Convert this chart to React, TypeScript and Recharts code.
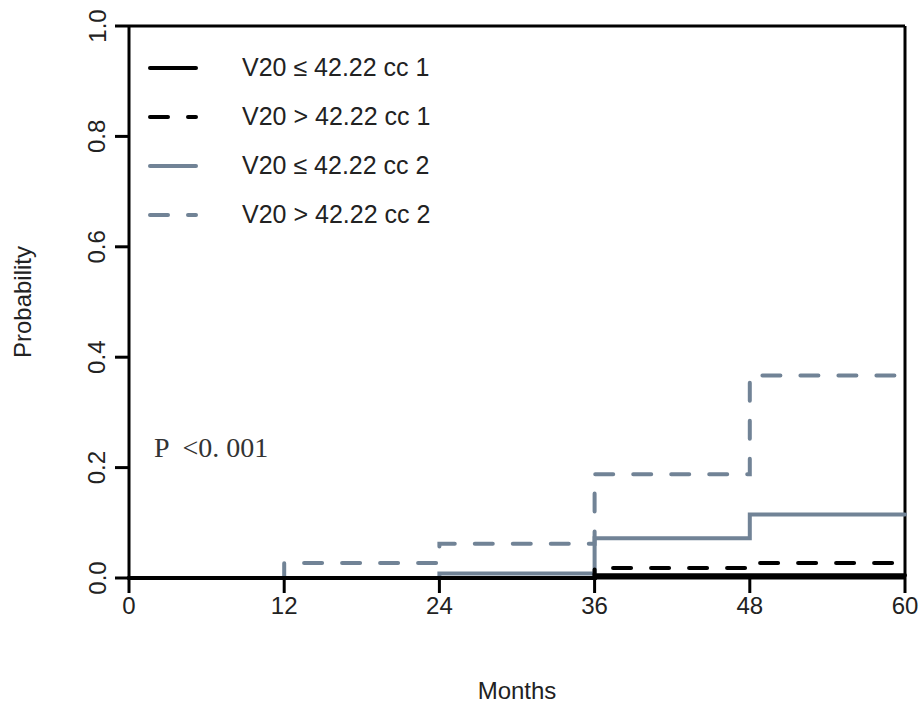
import { LineChart, Line, XAxis, YAxis, Legend, ReferenceLine, Label } from 'recharts';

const months = [0, 12, 24, 36, 48, 60];
const lowCc1 = [0, 0, 0, 0.005, 0.005, 0.005];
const highCc1 = [0, 0, 0, 0.018, 0.027, 0.027];
const lowCc2 = [0, 0, 0.008, 0.072, 0.115, 0.115];
const highCc2 = [0, 0.027, 0.062, 0.188, 0.367, 0.367];
const yTicks = [0, 0.2, 0.4, 0.6, 0.8, 1.0];

const GRAY = '#718396';
const FONT = '"Liberation Sans", Arial, sans-serif';

const SERIES = [
  { key: 'lowCc1', name: 'V20 ≤ 42.22 cc 1', color: '#000', dash: undefined },
  { key: 'highCc1', name: 'V20 > 42.22 cc 1', color: '#000', dash: '18 20' },
  { key: 'lowCc2', name: 'V20 ≤ 42.22 cc 2', color: GRAY, dash: undefined },
  { key: 'highCc2', name: 'V20 > 42.22 cc 2', color: GRAY, dash: '18 20' },
];

const chartData = months.map((m, i) => ({
  month: m,
  lowCc1: lowCc1[i],
  highCc1: highCc1[i],
  lowCc2: lowCc2[i],
  highCc2: highCc2[i],
}));

// R-style rotated y tick labels
function YTick({ y, payload }: any) {
  const x = 97;
  return (
    <text
      x={x}
      y={y}
      transform={`rotate(-90 ${x} ${y})`}
      textAnchor="middle"
      dominantBaseline="central"
      fill="#222"
      fontSize={24}
      fontFamily={FONT}
    >
      {Number(payload.value).toFixed(1)}
    </text>
  );
}

function LegendBox() {
  return (
    <div style={{ fontFamily: FONT, fontSize: 25, color: '#222' }}>
      {SERIES.map((s) => (
        <div key={s.key} style={{ display: 'flex', alignItems: 'center', height: 49 }}>
          <svg width={52} height={10} style={{ display: 'block' }}>
            <line
              x1={2}
              y1={5}
              x2={48}
              y2={5}
              stroke={s.color}
              strokeWidth={4}
              strokeLinecap="round"
              strokeDasharray={s.dash}
            />
          </svg>
          <span style={{ marginLeft: 42, whiteSpace: 'pre' }}>{s.name}</span>
        </div>
      ))}
    </div>
  );
}

export default function App() {
  const drawOrder = [SERIES[3], SERIES[2], SERIES[1], SERIES[0]];
  return (
    <div style={{ position: 'absolute', left: 0, top: 0, width: 924, height: 704, background: '#fff' }}>
      <LineChart width={924} height={704} data={chartData} margin={{ top: 26, right: 19, bottom: 0, left: 0 }}>
        <XAxis
          dataKey="month"
          type="number"
          domain={[0, 60]}
          ticks={months}
          height={126}
          tickSize={15}
          tickMargin={4}
          axisLine={{ stroke: '#000', strokeWidth: 3 }}
          tickLine={{ stroke: '#000', strokeWidth: 3 }}
          tick={{ fill: '#222', fontSize: 24, fontFamily: FONT }}
        >
          <Label value="Months" position="insideBottom" offset={5} fill="#222" fontSize={24} fontFamily={FONT} />
        </XAxis>
        <YAxis
          type="number"
          domain={[0, 1]}
          ticks={yTicks}
          width={129}
          tickSize={14}
          axisLine={{ stroke: '#000', strokeWidth: 3 }}
          tickLine={{ stroke: '#000', strokeWidth: 3 }}
          tick={<YTick />}
        >
          <Label
            content={() => (
              <text
                x={22}
                y={302}
                transform="rotate(-90 22 302)"
                textAnchor="middle"
                dominantBaseline="central"
                fill="#222"
                fontSize={24}
                fontFamily={FONT}
              >
                Probability
              </text>
            )}
          />
        </YAxis>
        <ReferenceLine y={1} stroke="#000" strokeWidth={3} ifOverflow="visible" />
        <ReferenceLine x={60} stroke="#000" strokeWidth={3} ifOverflow="visible" />
        {drawOrder.map((s) => (
          <Line
            key={s.key}
            dataKey={s.key}
            name={s.name}
            type="stepAfter"
            stroke={s.color}
            strokeWidth={4}
            strokeDasharray={s.dash}
            strokeLinecap="round"
            dot={false}
            activeDot={false}
            isAnimationActive={false}
          />
        ))}
        <Legend
          layout="vertical"
          align="center"
          verticalAlign="middle"
          content={<LegendBox />}
          wrapperStyle={{ left: 148, top: 43, width: 'auto' }}
        />
      </LineChart>
      <div
        style={{
          position: 'absolute',
          left: 154,
          top: 432,
          fontFamily: '"Liberation Serif", "Times New Roman", serif',
          fontSize: 28,
          color: '#333',
          whiteSpace: 'pre',
        }}
      >
        {'P  <0. 001'}
      </div>
    </div>
  );
}
